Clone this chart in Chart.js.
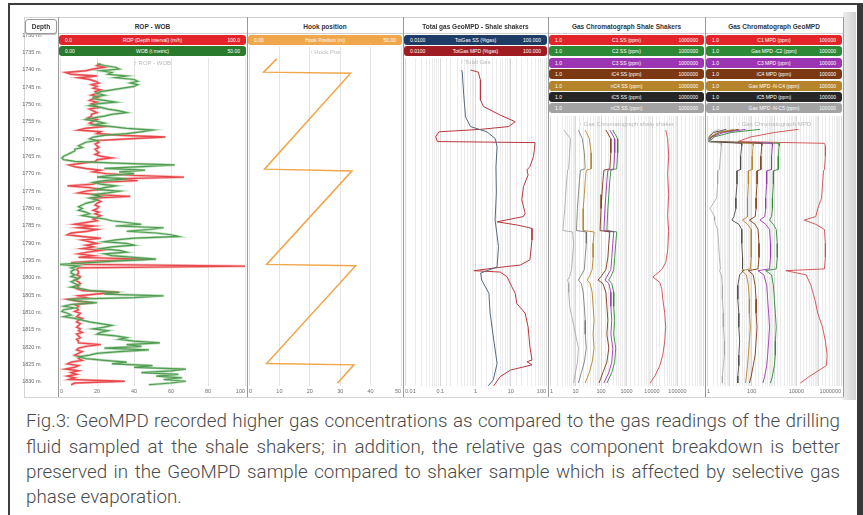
<!DOCTYPE html>
<html>
<head>
<meta charset="utf-8">
<title>GeoMPD vs shale shaker gas log</title>
<script src="https://cdn.jsdelivr.net/npm/chart.js@4.4.1/dist/chart.umd.min.js"></script>
<style>
  html, body { margin: 0; padding: 0; }
  body { width: 863px; height: 515px; position: relative; overflow: hidden; background: #fff;
         font-family: 'Liberation Sans', Arial, sans-serif; }
  #frame { position: absolute; left: 8px; top: 3px; width: 847px; height: 530px;
           border-left: 2px solid #3d3d3d; border-top: 2px solid #3d3d3d; border-right: 7px solid #383838; }
  #shade { position: absolute; left: 843px; top: 12px; width: 13px; height: 388px;
           background: linear-gradient(90deg, #ececec, #d2d2d2); }
  #panel { position: absolute; left: 24px; top: 17px; width: 820px; height: 381px;
           border: 1px solid #d4d4d4; box-sizing: border-box; }
  canvas { position: absolute; }
  .sep { position: absolute; top: 17px; height: 380px; width: 1px; background: #9a9a9a; z-index: 5; }
  .title { position: absolute; top: 17px; height: 17px; line-height: 17px; font-size: 6.5px; font-weight: bold;
           color: #333; text-align: center; border-bottom: 1px solid #d0d0d0; border-top: 1px solid #d0d0d0;
           box-sizing: border-box; background: #fff; z-index: 4; white-space: nowrap; }
  .bar { position: absolute; height: 10px; border-radius: 3px; color: #fff; font-size: 5px; line-height: 10px;
         z-index: 4; white-space: nowrap; }
  .bar span { position: absolute; top: 0; }
  .sub { position: absolute; font-size: 6px; color: #b8b8b8; text-align: center; z-index: 4; white-space: nowrap; }
  #depthBox { position: absolute; left: 25px; top: 19px; width: 32px; height: 15px; border: 1px solid #9a9a9a;
              border-radius: 3px; box-sizing: border-box; background: #fff; font-size: 6.5px; font-weight: bold;
              color: #333; text-align: center; line-height: 13px; z-index: 6; box-shadow: 0 1px 1px #bbb; }
  .cap { position: absolute; left: 26px; width: 814px; font-family: Roboto, sans-serif; font-weight: 300;
         font-size: 18.8px; line-height: 22px; color: #4a4a4a; white-space: nowrap;
         text-align: justify; text-align-last: justify; }
  .cap.last { text-align: left; text-align-last: left; }
</style>
</head>
<body>
<div id="frame"></div>
<div id="shade"></div>
<div id="panel"></div>
<div id="depthBox">Depth</div>

<div class="cap" style="top:410px">Fig.3: GeoMPD recorded higher gas concentrations as compared to the gas readings of the drilling</div>
<div class="cap" style="top:436px">fluid sampled at the shale shakers; in addition, the relative gas component breakdown is better</div>
<div class="cap" style="top:461px">preserved in the GeoMPD sample compared to shaker sample which is affected by selective gas</div>
<div class="cap last" style="top:486px">phase evaporation.</div>

<script>

// ROP / WOB, sampled every 0.5 m from 1738.5 m
const ROP_WOB_START = 1738.5;
const ROP_WOB_STEP = 0.5;
const ROP = [
  22, 20, 24, 18, 14, 3, 6, 20, 10, 16,
  19, 21, 17, 20, 18, 22, 19, 20, 17, 21,
  18, 16, 20, 17, 19, 21, 16, 18, 20, 17,
  17, 15, 20, 18, 16, 19, 24, 14, 10, 22,
  20, 32, 57, 38, 20, 21, 19, 20, 21, 19,
  20, 21, 19, 22, 28, 20, 19, 12, 5, 8,
  14, 22, 18, 25, 40, 67, 30, 42, 20, 18,
  4, 16, 22, 14, 10, 20, 38, 18, 20, 22,
  20, 19, 21, 20, 18, 21, 19, 22, 20, 18,
  20, 14, 8, 18, 10, 20, 15, 6, 4, 12,
  22, 12, 16, 20, 14, 18, 12, 22, 15, 10,
  18, 10, 47, 20, 6, 14, 100, 10, 9, 10,
  10, 9, 11, 10, 8, 10, 11, 9, 10, 9,
  12, 32, 20, 10, 14, 4, 9, 18, 8, 10,
  9, 10, 8, 11, 10, 9, 12, 10, 9, 11,
  10, 9, 11, 10, 12, 9, 10, 11, 9, 10,
  10, 22, 14, 10, 9, 12, 10, 8, 11, 10,
  12, 6, 4, 10, 8, 3, 10, 6, 9, 4, 8, 5, 35, 8, 6
];
const WOB = [
  10, 12, 15, 16, 11, 14, 13, 18, 15, 20,
  21, 19, 21, 20, 17, 14, 11, 10, 12, 9,
  9, 12, 15, 10, 8, 11, 13, 16, 18, 14,
  12, 9, 7, 10, 12, 9, 14, 18, 25, 22,
  18, 12, 9, 8, 10, 7, 6, 5, 6, 4,
  4, 3, 2, 1, 0.5, 1, 4, 15, 31, 22,
  12, 23, 16, 20, 14, 10, 18, 12, 9, 11,
  15, 12, 10, 16, 13, 9, 11, 8, 10, 9,
  7, 6, 5, 6, 5, 7, 8, 6, 9, 12,
  14, 18, 22, 15, 28, 24, 18, 26, 30, 32,
  20, 15, 12, 18, 20, 14, 11, 16, 18, 12,
  14, 20, 26, 16, 8, 0, 5, 3, 4, 3,
  3, 4, 3, 5, 4, 3, 4, 5, 3, 6,
  8, 15, 12, 28, 20, 2, 5, 10, 3, 1,
  4, 1, 0.5, 2, 3, 1, 4, 6, 8, 11,
  14, 12, 9, 13, 11, 10, 15, 18, 16, 20,
  27, 18, 22, 12, 24, 16, 10, 8, 5, 7,
  12, 18, 14, 25, 20, 34, 30, 22, 32, 26, 33, 28, 34, 30, 24
];

// Hook position (m)
const HOOK_DEPTH = [1737.1, 1740.9, 1741.2, 1768.7, 1769.2, 1796.0, 1796.4, 1824.4, 1824.8, 1830.1];
const HOOK_POS = [9.1, 4.8, 33.4, 5.1, 33.9, 5.8, 35.1, 5.8, 34.5, 29.1];

// Total gas (%)
const TG_SS_DEPTH = [1740.3, 1740.8, 1746.9, 1753.7, 1756.5, 1758.0, 1759.9, 1762.3, 1768.0, 1775.5,
  1783.3, 1790.9, 1796.7, 1798.5, 1800.5, 1804.3, 1810.0, 1817.7, 1824.4, 1829.1, 1830.8];
const TG_SS = [0.40, 0.42, 0.46, 0.52, 0.72, 2.1, 3.6, 4.1, 3.8, 3.9,
  3.6, 4.5, 4.1, 1.4, 1.5, 2.4, 2.6, 3.3, 4.1, 3.2, 2.3];
const TG_MPD_DEPTH = [1740.3, 1740.9, 1743.2, 1748.9, 1750.8, 1753.2, 1755.1, 1756.5, 1757.3, 1758.0,
  1759.4, 1760.8, 1761.1, 1763.0, 1765.1, 1768.0, 1768.9, 1770.4, 1773.7, 1777.5,
  1781.4, 1782.3, 1783.8, 1784.7, 1785.2, 1785.7, 1789.0, 1794.7, 1796.2, 1796.6,
  1797.8, 1798.2, 1799.5, 1802.4, 1804.3, 1807.2, 1810.0, 1813.9, 1819.6, 1823.4,
  1823.9, 1824.8, 1826.3, 1828.2, 1830.8];
const TG_MPD = [0.72, 1.2, 1.38, 1.38, 1.7, 5, 13.4, 8.7, 1.38, 0.093,
  0.074, 0.083, 49, 47, 44, 35, 29, 31, 23, 20.6,
  25.6, 22.7, 4.1, 14.8, 25, 40, 40, 35, 18.6, 7.8,
  0.9, 5, 7.8, 10.7, 13.4, 14.8, 25.6, 31, 35, 40,
  29, 40, 9.8, 5, 3.3];

// Gas chromatograph, shale shakers (ppm)
const GC_SS_DEPTH = [1757.5, 1760, 1764, 1768.6, 1769.0, 1772, 1776, 1780, 1786.3, 1786.7, 1790, 1794,
  1797.5, 1799.5, 1800.5, 1801.5, 1804, 1808, 1812, 1816, 1820, 1824, 1827, 1830];
const C2_SS = [290, 451, 451, 412, 243, 222, 203, 186, 170, 412, 378, 345, 316, 243, 203, 265, 316, 316, 345, 316, 378, 345, 265, 170];
const C3_SS = [222, 345, 345, 316, 186, 170, 156, 143, 130, 316, 290, 265, 243, 170, 143, 203, 243, 243, 265, 243, 290, 265, 203, 130];
const IC4_SS = [156, 243, 243, 222, 130, 119, 109, 100, 92, 222, 203, 186, 156, 100, 77, 119, 156, 170, 186, 170, 203, 170, 119, 84];
const NC4_SS = [24, 35, 41, 41, 26.5, 24, 22.2, 20, 20, 53.8, 49, 49, 45, 35, 29, 37.8, 45, 49, 53.8, 49, 53.8, 45, 35, 24];
const IC5_SS = [13, 18.6, 22.2, 24, 15.6, 14.3, 13, 11.9, 10.9, 26.5, 26.5, 24, 22.2, 15.6, 13, 17, 20, 22.2, 24, 24, 26.5, 22.2, 17, 13];
const NC5_SS = [3.5, 6.4, 5.9, 5.4, 4.9, 4.5, 4.1, 3.8, 3.2, 7.7, 8.4, 7.7, 7.0, 5.9, 4.9, 5.4, 5.4, 5.9, 7.7, 10, 13, 11.9, 10, 8.4];
const C1_SS_DEPTH = [1757.5, 1760, 1765, 1770, 1776, 1782, 1786.5, 1792, 1795.5, 1797.5, 1799.6,
  1801.2, 1803, 1806, 1810, 1814, 1818, 1822, 1825, 1828, 1830];
const C1_SS = [34500, 41200, 45000, 41200, 45000, 41200, 45000, 41200, 34500, 24200, 10900,
  20300, 24200, 26500, 31600, 34500, 31600, 26500, 20300, 13000, 8380];

// Gas chromatograph, GeoMPD (ppm)
const GC_MPD_DEPTH = [1757.3, 1758.2, 1759.5, 1760.8, 1761.3, 1762, 1765, 1768.8, 1769.2, 1773,
  1777, 1780, 1782.3, 1783.3, 1784.5, 1786, 1790, 1794, 1797.3, 1797.8,
  1799, 1802, 1806, 1810, 1814, 1818, 1822, 1825, 1828, 1830];
const C1_MPD = [12400, 1040, 87, 24, 181000, 200000, 200000, 181000, 165000, 149000,
  135000, 91000, 74000, 22500, 74000, 181000, 200000, 200000, 181000, 3400,
  27600, 45000, 67000, 91000, 149000, 200000, 240000, 220000, 41000, 15000];
const C2_MPD = [235, 12, 2.0, 1.35, 1700, 1700, 1550, 1550, 940, 940,
  850, 850, 775, 630, 940, 1260, 1400, 1400, 1260, 425,
  775, 940, 1040, 1150, 1260, 1150, 1150, 1040, 850, 700];
const C3_MPD = [53, 5.4, 1.64, 1.2, 850, 850, 775, 775, 470, 470,
  425, 425, 385, 235, 425, 630, 700, 700, 630, 192,
  350, 470, 520, 575, 630, 575, 520, 470, 385, 316];
const IC4_MPD = [26.5, 3.6, 1.5, 1.2, 285, 285, 258, 258, 174, 174,
  158, 158, 143, 79, 143, 192, 213, 213, 192, 71,
  117, 143, 158, 158, 174, 158, 143, 117, 96, 79];
const NC4_MPD = [16, 3.0, 1.35, 1.2, 117, 117, 106, 106, 71, 71,
  65, 65, 65, 39, 65, 96, 96, 96, 87, 36,
  58, 71, 79, 79, 87, 79, 71, 65, 58, 53];
const IC5_MPD = [7.3, 2.0, 1.2, 1.2, 36, 36, 32, 32, 22, 22,
  19.6, 19.6, 16, 13, 26.5, 36, 36, 39, 39, 43,
  29, 24, 24, 26.5, 26.5, 29, 26.5, 26.5, 24, 24];
const NC5_MPD = [3.6, 1.64, 1.2, 1.2, 4.4, 4.4, 4.0, 3.6, 3.0, 3.0,
  2.7, 1.35, 2.2, 2.2, 2.4, 3.0, 3.3, 3.6, 4.0, 3.6,
  4.4, 4.9, 4.9, 5.4, 5.4, 6.0, 6.0, 5.4, 4.9, 4.9];

// header texts
const TRACK_TITLES = ['ROP - WOB', 'Hook position', 'Total gas GeoMPD - Shale shakers',
  'Gas Chromatograph Shale Shakers', 'Gas Chromatograph GeoMPD'];
const TRACK_SUBTITLES = ['\u2191 ROP - WOB', '\u2191 Hook Pos', '\u2191 Total Gas',
  '\u2191 Gas Chromatograph shale shaker', '\u2191 Gas Chromatograph MPD'];
const LEGEND_NAMES = [
  ['ROP (Depth interval) (m/h)', 'WOB (t metric)'],
  ['Hook Position (m)'],
  ['TotGas SS (%gas)', 'TotGas MPD (%gas)'],
  ['C1 SS (ppm)', 'C2 SS (ppm)', 'C3 SS (ppm)', 'iC4 SS (ppm)', 'nC4 SS (ppm)', 'iC5 SS (ppm)', 'nC5 SS (ppm)'],
  ['C1 MPD (ppm)', 'Gas MPD -C2 (ppm)', 'C3 MPD (ppm)', 'iC4 MPD (ppm)', 'Gas MPD -N-C4 (ppm)', 'iC5 MPD (ppm)', 'Gas MPD -N-C5 (ppm)']
];
const LEGEND_RANGES = [
  [['0.0', '100.0'], ['0.00', '50.00']],
  [['0.00', '50.00']],
  [['0.0100', '100.000'], ['0.0100', '100.000']],
  [['1.0', '1000000'], ['1.0', '1000000'], ['1.0', '1000000'], ['1.0', '1000000'], ['1.0', '1000000'], ['1.0', '1000000'], ['1.0', '1000000']],
  [['1.0', '100000'], ['1.0', '100000'], ['1.0', '100000'], ['1.0', '100000'], ['1.0', '100000'], ['1.0', '100000'], ['1.0', '100000']]
];

// ---------------- styling / layout ----------------
const COL = {
  rop: '#e3242b', wob: '#2a7a2e', hook: '#f0a64a', ss: '#1f3c66', ssLine: '#56697c', mpd: '#9f1c22', mpdLine: '#b8383d',
  c1: '#e3242b', c2: '#2c8a36', c3: '#9b35b3', ic4: '#7b3813', nc4: '#b5842a', ic5: '#262626', nc5: '#a3a3a3'
};
const LEGEND_COLORS = [
  [COL.rop, COL.wob], [COL.hook], [COL.ss, COL.mpd],
  [COL.c1, COL.c2, COL.c3, COL.ic4, COL.nc4, COL.ic5, COL.nc5],
  [COL.c1, COL.c2, COL.c3, COL.ic4, COL.nc4, COL.ic5, COL.nc5]
];

const TRACK_EDGES = [58, 247, 403, 548, 705, 843];
const PLOT_TOPS = [58, 47, 58, 116, 116];
const SUB_TOPS = [60, 49, 59, 121, 121];
const PLOT_BOTTOM = 386;
const AXIS_H = 11;
const REF_DEPTH = 1740, REF_Y = 69, PX_PER_M = 3.489;
const DEPTH_TOP = 20;

function depthAt(y) { return REF_DEPTH + (y - REF_Y) / PX_PER_M; }

Chart.defaults.font.family = "'Liberation Sans', Arial, sans-serif";

const tickBase = {
  autoSkip: false, maxRotation: 0, minRotation: 0, align: 'inner', padding: 2,
  color: '#707070', font: { size: 5.5 }
};
function fitAxis(scale) { scale.height = AXIS_H; }

function linearAxis(max, step) {
  return {
    type: 'linear', min: 0, max: max, position: 'bottom',
    ticks: Object.assign({ stepSize: step }, tickBase),
    grid: { color: '#e3e3e3', drawTicks: false, lineWidth: 1 },
    border: { display: false },
    afterFit: fitAxis
  };
}

function isDecade(v) {
  const e = Math.log10(v);
  return Math.abs(e - Math.round(e)) < 1e-6;
}

function logAxis(min, max, every, hideMax) {
  return {
    type: 'logarithmic', min: min, max: max, position: 'bottom',
    ticks: Object.assign({}, tickBase, {
      callback: function (v) {
        if (!isDecade(v)) return '';
        const e = Math.round(Math.log10(v));
        if (hideMax && Math.abs(v - max) < max * 1e-6) return '';
        if ((e - Math.round(Math.log10(min))) % every !== 0) return '';
        return String(Number(v.toPrecision(3)));
      }
    }),
    grid: {
      drawTicks: false, lineWidth: 1,
      color: (c) => (c.tick && isDecade(c.tick.value)) ? '#d9d9d9' : '#ececec'
    },
    border: { display: false },
    afterFit: fitAxis
  };
}

function curve(depths, values, color, width, axisId) {
  return {
    data: values.map((v, i) => ({ x: v, y: depths[i] })),
    borderColor: color, backgroundColor: color, borderWidth: width,
    showLine: true, pointRadius: 0, tension: 0, xAxisID: axisId || 'x'
  };
}

function addCanvas(left, top, width, height) {
  const cv = document.createElement('canvas');
  cv.width = width; cv.height = height;
  cv.style.left = left + 'px';
  cv.style.top = top + 'px';
  document.body.appendChild(cv);
  return cv;
}

function buildTrack(idx, xScales, datasets) {
  const left = TRACK_EDGES[idx], right = TRACK_EDGES[idx + 1], top = PLOT_TOPS[idx];
  const cv = addCanvas(left, top, right - left, PLOT_BOTTOM - top + AXIS_H);
  return new Chart(cv, {
    type: 'scatter',
    data: { datasets: datasets },
    options: {
      responsive: false, animation: false, events: [],
      layout: { padding: 0 },
      plugins: { legend: { display: false }, tooltip: { enabled: false } },
      scales: Object.assign({
        y: { type: 'linear', reverse: true, min: depthAt(top), max: depthAt(PLOT_BOTTOM), display: false }
      }, xScales)
    }
  });
}

function buildDepthColumn() {
  const pad = 8;
  const cv = addCanvas(12, DEPTH_TOP - pad, 46, PLOT_BOTTOM - DEPTH_TOP + 2 * pad);
  return new Chart(cv, {
    type: 'scatter',
    data: { datasets: [] },
    options: {
      responsive: false, animation: false, events: [],
      layout: { padding: { top: pad, bottom: pad } },
      plugins: { legend: { display: false }, tooltip: { enabled: false } },
      scales: {
        x: { display: false },
        y: {
          type: 'linear', reverse: true, min: depthAt(DEPTH_TOP), max: depthAt(PLOT_BOTTOM), position: 'left',
          grid: { display: false }, border: { display: false },
          ticks: { stepSize: 5, includeBounds: false, autoSkip: false, padding: 6, color: '#6b6b6b',
                   font: { size: 5.5 }, callback: (v) => v + ' m.' },
          afterFit: (s) => { s.width = 44; }
        }
      }
    }
  });
}

function buildHeader() {
  for (let t = 0; t < TRACK_TITLES.length; t++) {
    const left = TRACK_EDGES[t], width = TRACK_EDGES[t + 1] - left;
    const title = document.createElement('div');
    title.className = 'title';
    title.style.left = left + 'px';
    title.style.width = width + 'px';
    title.textContent = TRACK_TITLES[t];
    document.body.appendChild(title);

    LEGEND_NAMES[t].forEach((name, j) => {
      const bar = document.createElement('div');
      bar.className = 'bar';
      bar.style.left = (left + 1) + 'px';
      bar.style.width = (width - 2) + 'px';
      bar.style.top = (35 + j * 11.4) + 'px';
      bar.style.background = LEGEND_COLORS[t][j];
      const lo = document.createElement('span');
      lo.style.left = '6px'; lo.textContent = LEGEND_RANGES[t][j][0];
      const mid = document.createElement('span');
      mid.style.left = '0'; mid.style.width = '100%'; mid.style.textAlign = 'center'; mid.textContent = name;
      const hi = document.createElement('span');
      hi.style.right = '6px'; hi.textContent = LEGEND_RANGES[t][j][1];
      bar.append(mid, lo, hi);
      document.body.appendChild(bar);
    });

    const sub = document.createElement('div');
    sub.className = 'sub';
    sub.style.left = left + 'px';
    sub.style.width = width + 'px';
    sub.style.top = SUB_TOPS[t] + 'px';
    sub.textContent = TRACK_SUBTITLES[t];
    document.body.appendChild(sub);
  }
  TRACK_EDGES.forEach((x) => {
    const s = document.createElement('div');
    s.className = 'sep';
    s.style.left = x + 'px';
    document.body.appendChild(s);
  });
}

// ---------------- build ----------------
const ropDepth = ROP.map((_, i) => ROP_WOB_START + i * ROP_WOB_STEP);

buildDepthColumn();

buildTrack(0, { x: linearAxis(100, 20), x2: { type: 'linear', min: 0, max: 50, display: false } }, [
  curve(ropDepth, WOB, 'rgba(120,190,120,0.5)', 2.6, 'x2'),
  curve(ropDepth, WOB, COL.wob, 1.2, 'x2'),
  curve(ropDepth, ROP, 'rgba(240,120,120,0.45)', 2.6),
  curve(ropDepth, ROP, COL.rop, 1.4)
]);

buildTrack(1, { x: linearAxis(50, 10) }, [
  curve(HOOK_DEPTH, HOOK_POS, COL.hook, 1.5)
]);

buildTrack(2, { x: logAxis(0.01, 100, 1, false) }, [
  curve(TG_SS_DEPTH, TG_SS, COL.ssLine, 1),
  curve(TG_MPD_DEPTH, TG_MPD, COL.mpdLine, 1)
]);

buildTrack(3, { x: logAxis(1, 1e6, 1, true) }, [
  curve(GC_SS_DEPTH, NC5_SS, COL.nc5, 0.8),
  curve(GC_SS_DEPTH, IC5_SS, '#6c6c6c', 0.8),
  curve(GC_SS_DEPTH, NC4_SS, COL.nc4, 0.9),
  curve(GC_SS_DEPTH, IC4_SS, COL.ic4, 0.9),
  curve(GC_SS_DEPTH, C3_SS, COL.c3, 0.9),
  curve(GC_SS_DEPTH, C2_SS, COL.c2, 0.9),
  curve(C1_SS_DEPTH, C1_SS, '#d0484c', 0.9)
]);

buildTrack(4, { x: logAxis(1, 1e6, 2, false) }, [
  curve(GC_MPD_DEPTH, NC5_MPD, COL.nc5, 0.8),
  curve(GC_MPD_DEPTH, IC5_MPD, '#4a4a4a', 0.9),
  curve(GC_MPD_DEPTH, NC4_MPD, COL.nc4, 0.9),
  curve(GC_MPD_DEPTH, IC4_MPD, COL.ic4, 0.9),
  curve(GC_MPD_DEPTH, C3_MPD, COL.c3, 0.9),
  curve(GC_MPD_DEPTH, C2_MPD, COL.c2, 0.9),
  curve(GC_MPD_DEPTH, C1_MPD, '#d0484c', 0.9)
]);

buildHeader();
</script>
</body>
</html>
